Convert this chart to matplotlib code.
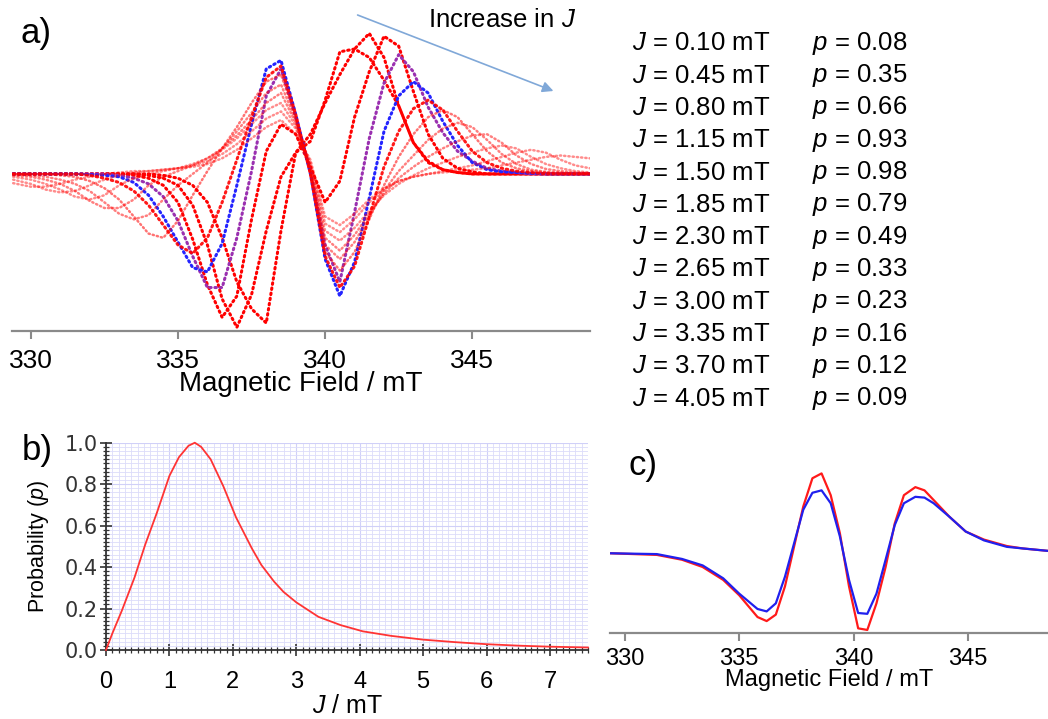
import matplotlib
matplotlib.use('Agg')
import matplotlib.pyplot as plt
from matplotlib.ticker import MultipleLocator

plt.rcParams['font.family'] = ['Liberation Sans', 'DejaVu Sans']
plt.rcParams['mathtext.fontset'] = 'custom'
plt.rcParams['mathtext.rm'] = 'Liberation Sans'
plt.rcParams['mathtext.it'] = 'Liberation Sans:italic'

# ---- panel a: simulated spectra for each J ----
field_a = [329.4, 330.0, 330.5, 331.0, 331.5, 332.0, 332.5, 333.0, 333.5, 334.0,
           334.5, 335.0, 335.5, 336.0, 336.5, 337.0, 337.5, 338.0, 338.5, 339.0,
           339.5, 340.0, 340.5, 341.0, 341.5, 342.0, 342.5, 343.0, 343.5, 344.0,
           344.5, 345.0, 345.5, 346.0, 346.5, 347.0, 347.5, 348.0, 348.5, 349.0]

spec_010 = [0, 0, 0, 0, 0, 0, 0, 0, 0, 0,
            -0.01, -0.03, -0.08, -0.20, -0.45, -0.76, -0.95, -1.05, -0.40, 0.15,
            0.23, 0.52, 0.86, 0.88, 0.82, 0.66, 0.48, 0.22, 0.08, 0.03,
            0.01, 0, 0, 0, 0, 0, 0, 0, 0, 0]
spec_045 = [0, 0, 0, 0, 0, 0, 0, 0, 0, -0.01,
            -0.03, -0.08, -0.22, -0.50, -0.88, -1.08, -0.85, -0.40, -0.02, 0.15,
            0.28, 0.50, 0.70, 0.88, 0.99, 0.82, 0.48, 0.22, 0.09, 0.03,
            0.01, 0, 0, 0, 0, 0, 0, 0, 0, 0]
spec_080 = [0, 0, 0, 0, 0, 0, 0, 0, -0.01, -0.03,
            -0.08, -0.20, -0.46, -0.78, -1.01, -0.86, -0.32, 0.16, 0.35, 0.28,
            0.05, -0.20, -0.05, 0.40, 0.72, 0.97, 0.90, 0.58, 0.28, 0.11,
            0.04, 0.015, 0, 0, 0, 0, 0, 0, 0, 0]
spec_115 = [0, 0, 0, 0, 0, 0, 0, -0.01, -0.03, -0.07,
            -0.16, -0.33, -0.58, -0.80, -0.80, -0.45, 0.02, 0.55, 0.74, 0.40,
            0.02, -0.50, -0.76, -0.27, 0.25, 0.64, 0.84, 0.72, 0.47, 0.29,
            0.16, 0.09, 0.04, 0.02, 0.01, 0, 0, 0, 0, 0]
spec_150 = [0, 0, 0, 0, 0, -0.005, -0.01, -0.02, -0.06, -0.15,
            -0.30, -0.48, -0.66, -0.69, -0.49, -0.08, 0.35, 0.74, 0.80, 0.42,
            0.0, -0.60, -0.86, -0.62, -0.17, 0.30, 0.55, 0.65, 0.57, 0.37,
            0.20, 0.08, 0.03, 0.015, 0.01, 0.005, 0, 0, 0, 0]
spec_185 = [0, 0, 0, 0, 0, -0.01, -0.03, -0.06, -0.12, -0.22,
            -0.36, -0.50, -0.56, -0.45, -0.20, 0.10, 0.40, 0.68, 0.76, 0.42,
            0.0, -0.58, -0.80, -0.65, -0.30, 0.05, 0.30, 0.46, 0.52, 0.45,
            0.30, 0.16, 0.08, 0.04, 0.02, 0.01, 0, 0, 0, 0]
spec_230 = [0, 0, 0, -0.01, -0.02, -0.05, -0.10, -0.18, -0.30, -0.42,
            -0.45, -0.33, -0.15, 0.02, 0.18, 0.33, 0.50, 0.65, 0.70, 0.40,
            0.0, -0.55, -0.68, -0.55, -0.32, -0.08, 0.12, 0.28, 0.40, 0.45,
            0.40, 0.28, 0.16, 0.08, 0.04, 0.02, 0.01, 0, 0, 0]
spec_265 = [0, -0.01, -0.02, -0.04, -0.07, -0.12, -0.20, -0.28, -0.32, -0.29,
            -0.18, -0.08, 0.0, 0.08, 0.18, 0.30, 0.43, 0.57, 0.63, 0.38,
            0.02, -0.50, -0.60, -0.48, -0.30, -0.12, 0.02, 0.13, 0.24, 0.32,
            0.36, 0.33, 0.24, 0.14, 0.07, 0.03, 0.015, 0.01, 0, 0]
spec_300 = [-0.01, -0.02, -0.04, -0.07, -0.12, -0.19, -0.24, -0.24, -0.18, -0.08,
            -0.02, 0.02, 0.06, 0.11, 0.18, 0.27, 0.38, 0.50, 0.57, 0.36,
            0.04, -0.45, -0.54, -0.43, -0.28, -0.14, -0.03, 0.05, 0.12, 0.18,
            0.23, 0.27, 0.28, 0.22, 0.13, 0.07, 0.035, 0.02, 0.01, 0.005]
spec_335 = [-0.02, -0.04, -0.07, -0.11, -0.16, -0.18, -0.15, -0.08, -0.03, 0.0,
            0.02, 0.04, 0.07, 0.11, 0.17, 0.25, 0.35, 0.45, 0.50, 0.34,
            0.06, -0.40, -0.47, -0.38, -0.26, -0.15, -0.07, -0.01, 0.04, 0.08,
            0.12, 0.15, 0.18, 0.20, 0.18, 0.12, 0.07, 0.04, 0.02, 0.01]
spec_370 = [-0.04, -0.07, -0.11, -0.13, -0.12, -0.08, -0.04, -0.01, 0.01, 0.02,
            0.03, 0.04, 0.06, 0.09, 0.14, 0.21, 0.30, 0.39, 0.44, 0.32,
            0.08, -0.35, -0.41, -0.32, -0.20, -0.11, -0.05, -0.02, 0.0, 0.02,
            0.04, 0.06, 0.09, 0.12, 0.15, 0.17, 0.15, 0.10, 0.06, 0.04]
spec_405 = [-0.065, -0.09, -0.09, -0.07, -0.04, -0.02, 0.0, 0.01, 0.02, 0.02,
            0.03, 0.04, 0.05, 0.07, 0.11, 0.17, 0.25, 0.33, 0.38, 0.28,
            0.10, -0.30, -0.36, -0.28, -0.18, -0.10, -0.05, -0.02, 0.0, 0.01,
            0.02, 0.03, 0.04, 0.06, 0.08, 0.10, 0.12, 0.13, 0.12, 0.11]

J_values = [0.10, 0.45, 0.80, 1.15, 1.50, 1.85, 2.30, 2.65, 3.00, 3.35, 3.70, 4.05]
p_values = [0.08, 0.35, 0.66, 0.93, 0.98, 0.79, 0.49, 0.33, 0.23, 0.16, 0.12, 0.09]
spectra = [spec_010, spec_045, spec_080, spec_115, spec_150, spec_185,
           spec_230, spec_265, spec_300, spec_335, spec_370, spec_405]
colors_a = ['red', 'red', 'red', '#9a30b0', '#2424ff', 'red',
            'red', 'red', 'red', 'red', 'red', 'red']
alphas_a = [1, 1, 1, 1, 1, 0.9, 0.55, 0.5, 0.5, 0.45, 0.45, 0.45]

# ---- panel b: probability distribution ----
J_curve = [0, 0.1, 0.25, 0.45, 0.62, 0.8, 1.0, 1.15, 1.3, 1.4, 1.5, 1.65, 1.85,
           2.05, 2.3, 2.45, 2.65, 2.8, 3.0, 3.35, 3.7, 4.05, 4.5, 5.0, 5.5, 6.0,
           6.5, 7.0, 7.6]
p_curve = [0.0, 0.08, 0.19, 0.35, 0.51, 0.66, 0.84, 0.93, 0.985, 1.0, 0.98, 0.92,
           0.79, 0.64, 0.49, 0.41, 0.33, 0.28, 0.23, 0.16, 0.12, 0.09, 0.068,
           0.05, 0.038, 0.028, 0.021, 0.016, 0.012]

# ---- panel c: weighted sum (red) vs experiment (blue) ----
field_c = [329.4, 331.4, 332.5, 333.4, 334.3, 335.0, 335.8, 336.2, 336.6, 337.0,
           337.8, 338.2, 338.6, 339.0, 339.4, 339.8, 340.2, 340.6, 341.0, 341.4,
           341.8, 342.2, 342.7, 343.1, 343.5, 344.2, 344.9, 345.7, 346.7, 347.4, 348.5]
red_c = [0, -0.02, -0.08, -0.17, -0.33, -0.52, -0.79, -0.84, -0.76, -0.41,
         0.58, 0.93, 0.99, 0.72, 0.25, -0.41, -0.93, -0.95, -0.62, -0.17,
         0.37, 0.72, 0.82, 0.78, 0.66, 0.45, 0.27, 0.17, 0.09, 0.06, 0.03]
blue_c = [0, -0.01, -0.07, -0.15, -0.31, -0.50, -0.69, -0.72, -0.62, -0.29,
          0.54, 0.75, 0.78, 0.62, 0.21, -0.33, -0.74, -0.75, -0.50, -0.08,
          0.35, 0.62, 0.70, 0.69, 0.62, 0.45, 0.27, 0.16, 0.08, 0.06, 0.03]

W, H = 1048, 719
fig = plt.figure(figsize=(W / 100, H / 100), dpi=100)


def box(x0, y0, x1, y1):
    return [x0 / W, 1 - y1 / H, (x1 - x0) / W, (y1 - y0) / H]


def fx(x):
    return x / W


def fy(y):
    return 1 - y / H


def field_axis(ax, tsize, lsize, pad):
    for s in ['top', 'left', 'right']:
        ax.spines[s].set_visible(False)
    ax.spines['bottom'].set_color('#8a8a8a')
    ax.spines['bottom'].set_linewidth(1.6)
    ax.set_yticks([])
    ax.set_xticks([330, 335, 340, 345])
    ax.tick_params(axis='x', direction='out', length=6, width=1.5,
                   color='#8a8a8a', labelsize=tsize, pad=pad)
    ax.set_xlabel('Magnetic Field / mT', fontsize=lsize, labelpad=-1)
    ax.patch.set_alpha(0)


# panel a
ax_a = fig.add_axes(box(12, 0, 590, 330.7))
for spec, col, al in zip(spectra, colors_a, alphas_a):
    lw = 2.2 if al > 0.8 else 1.8
    ax_a.plot(field_a, spec, color=col, alpha=al, lw=lw,
              linestyle=(0, (0.5, 1.2)), dash_capstyle='round')
ax_a.set_xlim(329.36, 349.0)
ax_a.set_ylim(-1.104, 1.225)
field_axis(ax_a, 19, 20, 7)

fig.text(fx(36), fy(34), 'a)', fontsize=25, ha='center', va='center')
fig.text(fx(428), fy(20), 'Increase in $J$', fontsize=18.5, ha='left', va='center')
ax_a.annotate('', xy=(fx(556), fy(92)), xytext=(fx(355), fy(14)),
              xycoords='figure fraction', textcoords='figure fraction',
              arrowprops=dict(arrowstyle='-|>', color='#80a8d8', lw=1.2,
                              mutation_scale=16), annotation_clip=False)

# table of J and p
for i, (j, p) in enumerate(zip(J_values, p_values)):
    y = 43.3 + i * 32.3
    fig.text(fx(632), fy(y), f'$J$ = {j:.2f} mT', fontsize=18.5, va='center')
    fig.text(fx(812), fy(y), f'$p$ = {p:.2f}', fontsize=18.5, va='center')

# panel b
ax_b = fig.add_axes(box(106, 442.7, 588, 650))
ax_b.plot(J_curve, p_curve, color='#ff3434', lw=1.3, clip_on=False, zorder=3)
ax_b.set_xlim(0, 7.6)
ax_b.set_ylim(0, 1.0)
ax_b.set_xticks(range(8))
ax_b.set_yticks([0, 0.2, 0.4, 0.6, 0.8, 1.0])
ax_b.set_yticklabels(['0.0', '0.2', '0.4', '0.6', '0.8', '1.0'],
                     family='DejaVu Sans', color='#333333')
ax_b.xaxis.set_minor_locator(MultipleLocator(0.1))
ax_b.yaxis.set_minor_locator(MultipleLocator(0.02))
ax_b.grid(which='minor', color='#dcdcfa', lw=0.6)
ax_b.grid(which='major', color='#d0d0f8', lw=0.8)
for s in ['top', 'right']:
    ax_b.spines[s].set_visible(False)
for s in ['left', 'bottom']:
    ax_b.spines[s].set_color('#333333')
    ax_b.spines[s].set_linewidth(1.3)
ax_b.tick_params(which='major', direction='inout', length=8, width=1.2, color='#333333')
ax_b.tick_params(which='minor', direction='inout', length=4, width=0.9, color='#333333')
ax_b.tick_params(axis='x', labelsize=17, pad=11)
ax_b.tick_params(axis='y', labelsize=15, pad=2)
ax_b.set_xlabel('$J$ / mT', fontsize=18, labelpad=1)
ax_b.set_ylabel('Probability ($p$)', fontsize=15.5, labelpad=10)
fig.text(fx(37), fy(451), 'b)', fontsize=25, ha='center', va='center')

# panel c
ax_c = fig.add_axes(box(610, 440, 1048, 632.7))
ax_c.plot(field_c, red_c, color='#ff1a1a', lw=1.6)
ax_c.plot(field_c, blue_c, color='#2020ee', lw=1.6)
ax_c.set_xlim(329.35, 348.5)
ax_c.set_ylim(-0.984, 1.404)
field_axis(ax_c, 17, 17, 5)
fig.text(fx(643), fy(465), 'c)', fontsize=25, ha='center', va='center')

fig.savefig('out.png', dpi=100)
